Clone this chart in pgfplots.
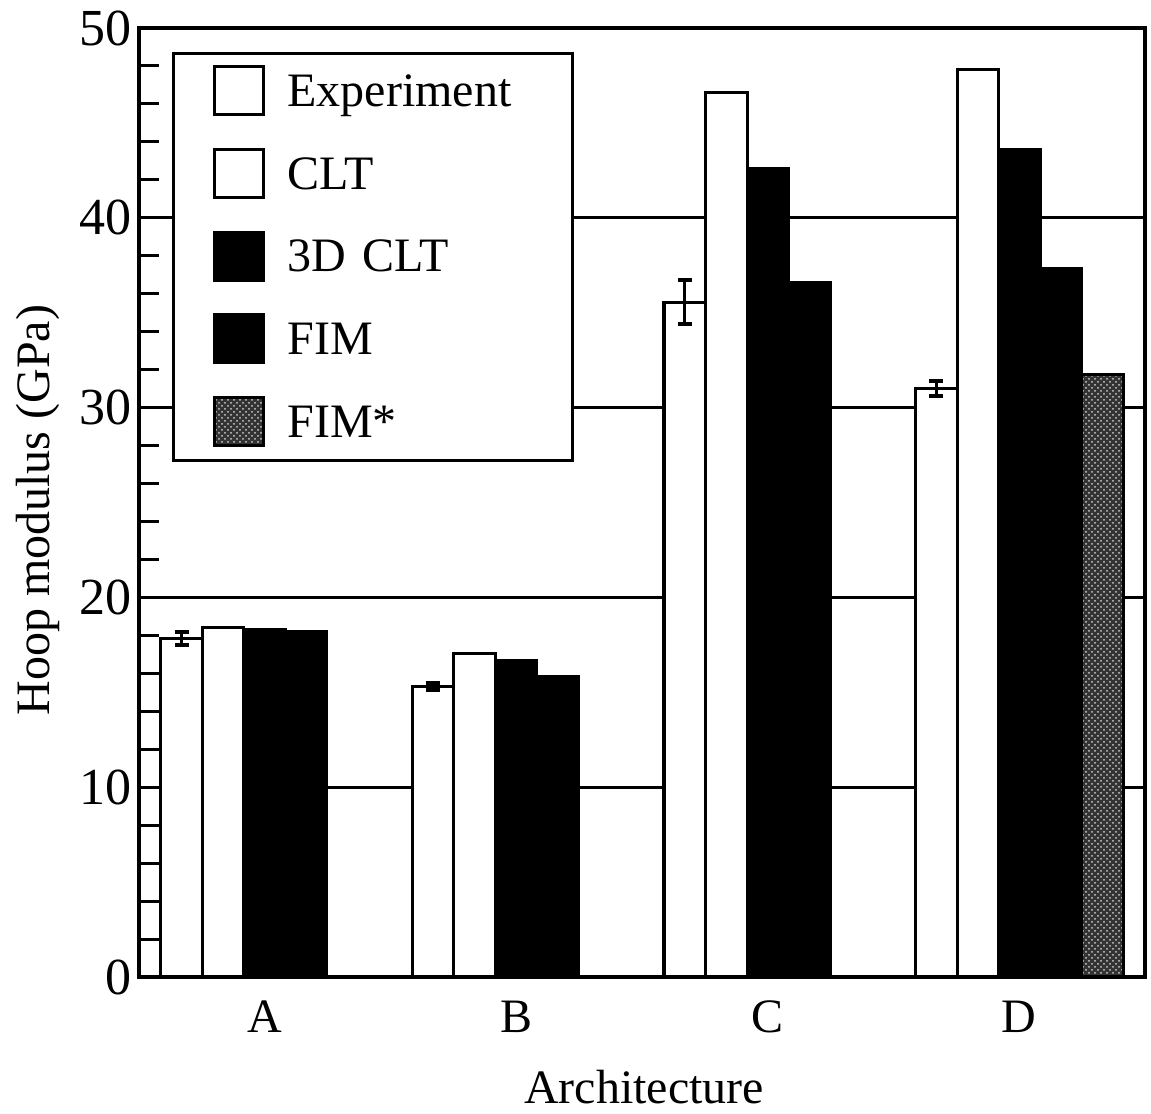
\documentclass[border=0pt]{standalone}
\usepackage{fontspec}
\setmainfont{Liberation Serif}
\usepackage{pgfplots}
\pgfplotsset{compat=1.18}
\usetikzlibrary{patterns}
\begin{document}
\begin{tikzpicture}
\begin{axis}[
  width=503pt, height=474.5pt, scale only axis,
  xmin=0.5, xmax=4.5, ymin=0, ymax=50,
  ybar, bar width=20.75pt,
  xtick={1,2,3,4}, xticklabels={A,B,C,D},
  ytick={0,10,...,50},
  minor ytick={2,4,6,8,12,14,16,18,22,24,26,28,32,34,36,38,42,44,46,48},
  ytick pos=left,
  tick align=inside,
  major tick length=10pt, minor tick length=10pt,
  tick style={line width=1.5pt, black},
  xtick style={draw=none},
  ymajorgrids, grid style={line width=1.5pt, black},
  axis line style={line width=1.75pt},
  /pgf/number format/assume math mode=true,
  yticklabel style={font=\fontsize{26}{30}\selectfont},
  xticklabel style={font=\fontsize{24}{28}\selectfont, yshift=-8.5pt},
  ylabel={Hoop modulus (GPa)},
  ylabel style={at={(axis description cs:-0.0885,0.492)}, anchor=base, font=\fontsize{24}{28}\selectfont},
  xlabel={Architecture},
  xlabel style={at={(axis description cs:0.502,-0.1328)}, anchor=base, font=\fontsize{24}{28}\selectfont},
  legend cell align=left,
  legend style={at={(axis description cs:0.0328,0.9747)}, anchor=north west,
    draw=black, line width=1.5pt, fill=white,
    inner xsep=19.5pt, inner ysep=5.75pt, row sep=14.75pt, column sep=11.5pt,
    font=\fontsize{24}{28}\selectfont,
    nodes={inner sep=0pt, text height=18pt, text depth=6pt, text width=123pt, align=left}},
  legend image code/.code={%
    \draw[#1, line width=1.5pt] (0pt,-10.1pt) rectangle (24.5pt,13.9pt);},
]
% Experiment
\addplot[fill=white, draw=black, line width=1.5pt, bar shift=-41.5pt,
  error bars/.cd, y dir=both, y explicit,
  error bar style={line width=1.5pt, black},
  error mark options={rotate=90, mark size=3.5pt, line width=2pt, black}]
  coordinates {(1,17.85) +- (0,0.35) (2,15.3) +- (0,0.2) (3,35.55) +- (0,1.15) (4,31.0) +- (0,0.4)};
\addlegendentry{Experiment}
% CLT
\addplot[fill=white, draw=black, line width=1.5pt, bar shift=-20.75pt]
  coordinates {(1,18.4) (2,17.05) (3,46.6) (4,47.8)};
\addlegendentry{CLT}
% 3D CLT
\addplot[fill=black, draw=black, line width=1.5pt, bar shift=0pt]
  coordinates {(1,18.33) (2,16.65) (3,42.6) (4,43.6)};
\addlegendentry{3D CLT}
% FIM
\addplot[fill=black, draw=black, line width=1.5pt, bar shift=20.75pt]
  coordinates {(1,18.2) (2,15.85) (3,36.6) (4,37.35)};
\addlegendentry{FIM}
% FIM*
\addplot[fill=black!80, draw=black, line width=1.5pt, bar shift=41.5pt,
  postaction={pattern=crosshatch dots, pattern color=white!80!black}]
  coordinates {(4,31.75)};
\addlegendentry{FIM*}
\end{axis}
\path ([shift={(-69.5pt,-68.5pt)}]current axis.south west) rectangle ([shift={(3pt,14pt)}]current axis.north east);
\end{tikzpicture}
\end{document}
